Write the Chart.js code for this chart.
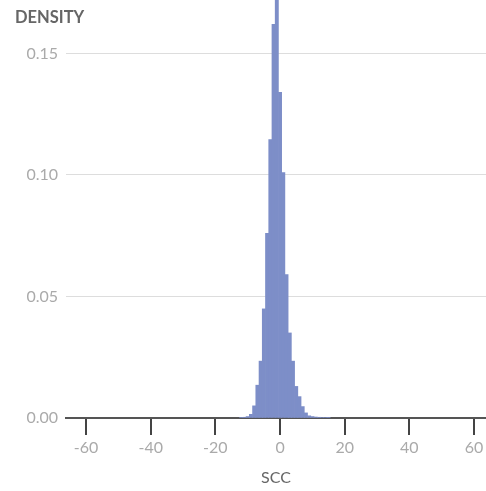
<!DOCTYPE html>
<html>
<head>
<meta charset="utf-8">
<title>SCC density</title>
<script src="https://cdn.jsdelivr.net/npm/chart.js@4/dist/chart.umd.min.js"></script>
<style>
  html, body { margin: 0; padding: 0; background: #fff; }
  #wrap { position: relative; width: 486px; height: 491px; }
</style>
</head>
<body>
<div id="wrap"><canvas id="sccChart"></canvas></div>
<script>
// --------------------
// Data (bin centres, bin width 1)
// --------------------
const sccBins = [-12, -11, -10, -9, -8, -7, -6, -5, -4, -3, -2, -1, 0, 1, 2, 3, 4, 5, 6, 7, 8, 9, 10, 11, 12, 13, 14, 15];
const density = [0.0001, 0.0003, 0.0006, 0.0015, 0.005, 0.0135, 0.0234, 0.0449, 0.076, 0.1146, 0.162, 0.185,
  0.134, 0.101, 0.059, 0.035, 0.0234, 0.013, 0.0088, 0.0047, 0.0021, 0.0009, 0.0006, 0.0004, 0.0003, 0.0002, 0.0002, 0.0001];
const xTicks = [-60, -40, -20, 0, 20, 40, 60];
const yTicks = [0, 0.05, 0.1, 0.15];

// --------------------
// "DENSITY" label in the top-left corner
// --------------------
const yTitle = {
  id: "yTitle",
  afterDraw(chart) {
    const ctx = chart.ctx;
    ctx.save();
    ctx.font = "bold 16.5px Lato";
    ctx.fillStyle = "#666";
    ctx.textBaseline = "middle";
    ctx.fillText("DENSITY", 15, 18);
    ctx.restore();
  }
};

// no extra padding for edge labels, plot runs to the canvas edges
function noPad(s) {
  s.paddingTop = 0;
  s.paddingBottom = 0;
  s.paddingLeft = 0;
  s.paddingRight = 0;
}

// --------------------
// Chart
// --------------------
document.addEventListener("DOMContentLoaded", () => {
  const el = document.getElementById("sccChart");
  new Chart(el, {
    type: "bar",
    data: {
      datasets: [
        {
          label: "Density",
          data: sccBins.map((b, i) => ({ x: b, y: density[i] })),
          backgroundColor: "#7d8ec8",
          borderWidth: 0,
          barPercentage: 1,
          categoryPercentage: 1
        }
      ]
    },
    options: {
      responsive: true,
      maintainAspectRatio: false,
      animation: false,
      layout: { padding: 0 },
      plugins: {
        legend: { display: false },
        tooltip: { enabled: false }
      },
      scales: {
        x: {
          type: "linear",
          min: -66.2,
          max: 63.7,
          offset: false,
          afterBuildTicks: (s) => { s.ticks = xTicks.map(v => ({ value: v })); },
          afterFit: (s) => { s.height = 73; noPad(s); },
          border: { color: "#555", width: 2 },
          grid: { offset: false, drawOnChartArea: false, color: "#444", lineWidth: 2, tickLength: 17 },
          ticks: { color: "#aaa", padding: 3, maxRotation: 0, font: { family: "Lato", size: 16 } },
          title: { display: true, text: "SCC", color: "#666", padding: { top: 10, bottom: 4 }, font: { family: "Lato", size: 16 } }
        },
        y: {
          min: 0,
          max: 0.172,
          afterBuildTicks: (s) => { s.ticks = yTicks.map(v => ({ value: v })); },
          afterFit: (s) => { s.width = 66; noPad(s); },
          border: { display: false },
          grid: { color: "#ddd", lineWidth: 1, drawTicks: false },
          ticks: {
            color: "#aaa",
            padding: 8,
            font: { family: "Lato", size: 16 },
            callback: (v) => v.toFixed(2)
          }
        }
      }
    },
    plugins: [yTitle]
  });
});
</script>
</body>
</html>
